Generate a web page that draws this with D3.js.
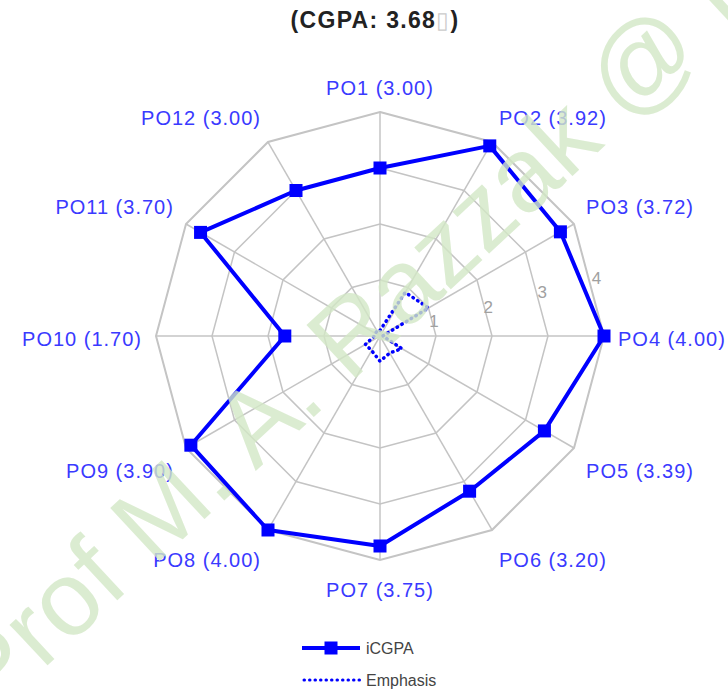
<!DOCTYPE html>
<html>
<head>
<meta charset="utf-8">
<script src="https://cdn.jsdelivr.net/npm/d3@7"></script>
<style>
  body { margin: 0; background: #fff; }
  text { font-family: "Liberation Sans", Arial, sans-serif; }
</style>
</head>
<body>
<script>
var width = 728,
    height = 689;

var categories = ['PO1', 'PO2', 'PO3', 'PO4', 'PO5', 'PO6', 'PO7', 'PO8', 'PO9', 'PO10', 'PO11', 'PO12'];
var icgpa = [3.00, 3.92, 3.72, 4.00, 3.39, 3.20, 3.75, 4.00, 3.90, 1.70, 3.70, 3.00];
var emphasis = [0.10, 0.90, 1.00, 0.05, 0.45, 0.35, 0.45, 0.30, 0.30, 0.10, 0.10, 0.10];
var ticks = [1, 2, 3, 4];
var seriesNames = ['iCGPA', 'Emphasis'];

var cx = 380,
    cy = 336;

var r = d3.scaleLinear().domain([0, 4]).range([0, 224]);
var angle = d3.scalePoint().domain(categories).range([0, 2 * Math.PI * 11 / 12]);

function px(c, v) { return cx + r(v) * Math.sin(angle(c)); }
function py(c, v) { return cy - r(v) * Math.cos(angle(c)); }

var svg = d3.select('body')
    .append('svg')
    .attr('width', width)
    .attr('height', height);

// title
var title = svg.append('text')
    .attr('x', 375)
    .attr('y', 28)
    .attr('text-anchor', 'middle')
    .attr('font-size', 23)
    .attr('font-weight', 'bold')
    .attr('letter-spacing', 1.3)
    .attr('fill', '#222');
title.append('tspan').text('(CGPA: 3.68');
title.append('tspan').attr('fill', '#ccc').attr('font-weight', 'normal').text('\u25AF');
title.append('tspan').text(')');

// grid rings
var ring = d3.line().curve(d3.curveLinearClosed);
svg.selectAll('.ring')
    .data(ticks)
    .enter()
    .append('path')
    .attr('class', 'ring')
    .attr('d', function (t) {
        return ring(categories.map(function (c) { return [px(c, t), py(c, t)]; }));
    })
    .attr('fill', 'none')
    .attr('stroke', '#c4c4c4')
    .attr('stroke-width', function (t) { return t === 4 ? 2 : 1.5; });

// spokes
svg.selectAll('.spoke')
    .data(categories)
    .enter()
    .append('line')
    .attr('class', 'spoke')
    .attr('x1', cx)
    .attr('y1', cy)
    .attr('x2', function (c) { return px(c, 4); })
    .attr('y2', function (c) { return py(c, 4); })
    .attr('stroke', '#c4c4c4')
    .attr('stroke-width', 1.5);

// tick labels along 75 degrees
var tickAngle = 75 * Math.PI / 180;
svg.selectAll('.tick')
    .data(ticks)
    .enter()
    .append('text')
    .attr('class', 'tick')
    .attr('x', function (t) { return cx + r(t) * Math.sin(tickAngle); })
    .attr('y', function (t) { return cy - r(t) * Math.cos(tickAngle); })
    .attr('dy', '0.35em')
    .attr('text-anchor', 'middle')
    .attr('font-size', 17)
    .attr('fill', '#a0a0a0')
    .text(function (t) { return t; });

// emphasis (dotted)
svg.append('path')
    .attr('d', ring(categories.map(function (c, i) { return [px(c, emphasis[i]), py(c, emphasis[i])]; })))
    .attr('fill', 'none')
    .attr('stroke', '#0000ff')
    .attr('stroke-width', 3.5)
    .attr('stroke-linecap', 'round')
    .attr('stroke-dasharray', '0.5,5');

// iCGPA
svg.append('path')
    .attr('d', ring(categories.map(function (c, i) { return [px(c, icgpa[i]), py(c, icgpa[i])]; })))
    .attr('fill', 'none')
    .attr('stroke', '#0000ff')
    .attr('stroke-width', 4)
    .attr('stroke-linejoin', 'round');

svg.selectAll('.marker')
    .data(categories)
    .enter()
    .append('rect')
    .attr('class', 'marker')
    .attr('x', function (c, i) { return px(c, icgpa[i]) - 6.5; })
    .attr('y', function (c, i) { return py(c, icgpa[i]) - 6.5; })
    .attr('width', 13)
    .attr('height', 13)
    .attr('fill', '#0000ff');

// category labels
svg.selectAll('.label')
    .data(categories)
    .enter()
    .append('text')
    .attr('class', 'label')
    .attr('x', function (c) {
        return cx + 238 * Math.sin(angle(c));
    })
    .attr('y', function (c) {
        var a = angle(c), s = Math.sin(a);
        return cy + 3 - (251 + 18 * s * s) * Math.cos(a);
    })
    .attr('dy', '0.35em')
    .attr('text-anchor', function (c) {
        var s = Math.sin(angle(c));
        return s > 0.1 ? 'start' : (s < -0.1 ? 'end' : 'middle');
    })
    .attr('font-size', 20)
    .attr('letter-spacing', 1)
    .attr('fill', '#3a3aff')
    .text(function (c, i) { return c + ' (' + icgpa[i].toFixed(2) + ')'; });

// legend
var legend = svg.append('g').attr('transform', 'translate(302,648)');
legend.append('line')
    .attr('x1', 0).attr('x2', 58).attr('y1', 0).attr('y2', 0)
    .attr('stroke', '#0000ff').attr('stroke-width', 4);
legend.append('rect')
    .attr('x', 22.5).attr('y', -6.5).attr('width', 13).attr('height', 13)
    .attr('fill', '#0000ff');
legend.append('line')
    .attr('x1', 2).attr('x2', 58).attr('y1', 32).attr('y2', 32)
    .attr('stroke', '#0000ff').attr('stroke-width', 3)
    .attr('stroke-linecap', 'round')
    .attr('stroke-dasharray', '0.5,5');
legend.selectAll('.ltext')
    .data(seriesNames)
    .enter()
    .append('text')
    .attr('x', 64)
    .attr('y', function (d, i) { return i * 32; })
    .attr('dy', '0.35em')
    .attr('font-size', 16)
    .attr('fill', '#444')
    .text(function (d) { return d; });

// watermark
svg.append('text')
    .attr('transform', 'translate(-9,718) rotate(-43)')
    .attr('font-size', 105)
    .attr('fill', '#d3e8c6')
    .attr('opacity', 0.8)
    .text('Prof M. A. Razzak @ IUB');
</script>
</body>
</html>
